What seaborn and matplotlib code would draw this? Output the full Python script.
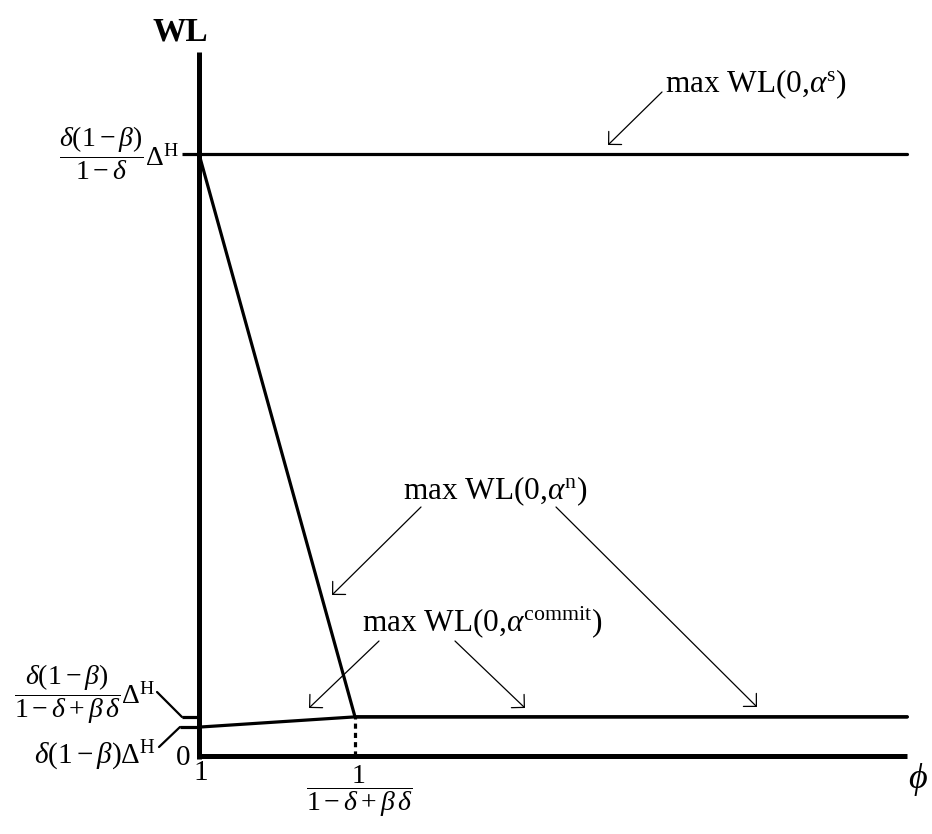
import numpy as np
import pandas as pd
import matplotlib
matplotlib.use('Agg')
import matplotlib.pyplot as plt
import seaborn as sns

sns.set_theme(style='white')
plt.rcParams['font.family'] = ['Liberation Serif', 'DejaVu Serif']
plt.rcParams['text.color'] = 'black'
plt.rcParams['mathtext.fontset'] = 'custom'
plt.rcParams['mathtext.rm'] = 'Liberation Serif'
plt.rcParams['mathtext.it'] = 'Liberation Serif:italic'
plt.rcParams['mathtext.bf'] = 'Liberation Serif:bold'

# values (schematic units): phi on x, WL on y
phi_start = 1.0      # phi = 1 at the vertical axis
phi_kink = 1.5       # 1/(1-delta+beta*delta)
phi_end = 3.27
wl_top = 11.69       # top of the WL axis
wl_s = 10.0          # delta(1-beta)/(1-delta) * Delta^H
wl_commit = 0.65     # delta(1-beta)/(1-delta+beta*delta) * Delta^H
wl_base = 0.48       # delta(1-beta) * Delta^H

series = ['alpha_s', 'alpha_s',
          'alpha_n', 'alpha_n', 'alpha_n',
          'alpha_commit', 'alpha_commit', 'alpha_commit']
phi = [phi_start, phi_end,
       phi_start, phi_kink, phi_end,
       phi_start, phi_kink, phi_end]
wl = [wl_s, wl_s,
      wl_s, wl_commit, wl_commit,
      wl_base, wl_commit, wl_commit]
df = pd.DataFrame({'series': series, 'phi': phi, 'wl': wl})

# layout in pixels of the 932x834 canvas
W, H = 932, 834
ox, oy = 199, 756          # pixel of (phi_start, 0)
kx, ky = 312.0, 60.2       # pixels per unit


def fp(x, y):
    # top-left pixel -> figure fraction
    return (x / W, 1 - y / H)


fig = plt.figure(figsize=(W / 100, H / 100), dpi=100)
ax = fig.add_axes([0, 0, 1, 1])
ax.set_xlim(phi_start - ox / kx, phi_start + (W - ox) / kx)
ax.set_ylim(-(H - oy) / ky, oy / ky)
ax.axis('off')

# axes
ax.vlines(phi_start, -2.5 / ky, wl_top, color='black', lw=3.6, capstyle='butt')
ax.hlines(0, phi_start - 2.5 / kx, phi_end, color='black', lw=3.6, capstyle='butt')

# curves
sns.lineplot(data=df, x='phi', y='wl', units='series', estimator=None, sort=False,
             color='black', linewidth=2.3, legend=False, ax=ax)

# tick stubs on the WL axis
ax.hlines([wl_s, wl_commit], phi_start - 17 / kx, phi_start, color='black', lw=2.3)
ax.hlines(wl_base, phi_start - 19 / kx, phi_start, color='black', lw=2.3)

# dashed drop line at the kink
ax.vlines(phi_kink, 0, wl_commit, color='black', lw=2.3, linestyles=(0, (1.6, 1.3)))

ax.set_xlabel('')
ax.set_ylabel('')

# axis labels
fig.text(*fp(180, 32), 'WL', fontsize=24, fontweight='bold', ha='center', va='center')
fig.text(*fp(918, 780), r'$\phi$', fontsize=26, ha='center', va='center')
fig.text(*fp(183, 758), '0', fontsize=21, ha='center', va='center')
fig.text(*fp(201, 773), '1', fontsize=21, ha='center', va='center')
fig.text(*fp(359, 791), r'$\dfrac{1}{1-\delta+\beta\,\delta}$', fontsize=20,
         ha='center', va='center')

# WL level labels
fig.text(*fp(179, 153), r'$\dfrac{\delta(1-\beta)}{1-\delta}\Delta^{\mathrm{H}}$',
         fontsize=20, ha='right', va='center')
fig.text(*fp(155, 694), r'$\dfrac{\delta(1-\beta)}{1-\delta+\beta\,\delta}\Delta^{\mathrm{H}}$',
         fontsize=20, ha='right', va='center')
fig.text(*fp(156, 756), r'$\delta(1-\beta)\Delta^{\mathrm{H}}$',
         fontsize=21, ha='right', va='center')

# leader lines from the lower labels
lead = dict(arrowstyle='-', color='black', lw=1.6, shrinkA=0, shrinkB=0)
ax.annotate('', xy=fp(182, 717), xycoords='figure fraction',
            xytext=fp(157, 692), textcoords='figure fraction', arrowprops=lead)
ax.annotate('', xy=fp(180, 727), xycoords='figure fraction',
            xytext=fp(159, 747), textcoords='figure fraction', arrowprops=lead)

# curve labels with arrows
arr = dict(arrowstyle='->,head_length=0.33,head_width=0.33', color='black', lw=0.9,
           shrinkA=0, shrinkB=0, mutation_scale=20)

fig.text(*fp(665, 84), r'max WL(0,$\alpha^{\mathrm{s}}$)', fontsize=22.5,
         ha='left', va='center')
fig.text(*fp(403, 491), r'max WL(0,$\alpha^{\mathrm{n}}$)', fontsize=22.5,
         ha='left', va='center')
fig.text(*fp(362, 622), r'max WL(0,$\alpha^{\mathrm{commit}}$)', fontsize=22.5,
         ha='left', va='center')

arrows = [((662, 92), (608, 145)),
          ((421, 507), (332, 595)),
          ((556, 507), (757, 707)),
          ((379, 641), (309, 708)),
          ((455, 641), (525, 708))]
for start, end in arrows:
    ax.annotate('', xy=fp(*end), xycoords='figure fraction',
                xytext=fp(*start), textcoords='figure fraction', arrowprops=arr)

fig.savefig('out.png', dpi=100)
